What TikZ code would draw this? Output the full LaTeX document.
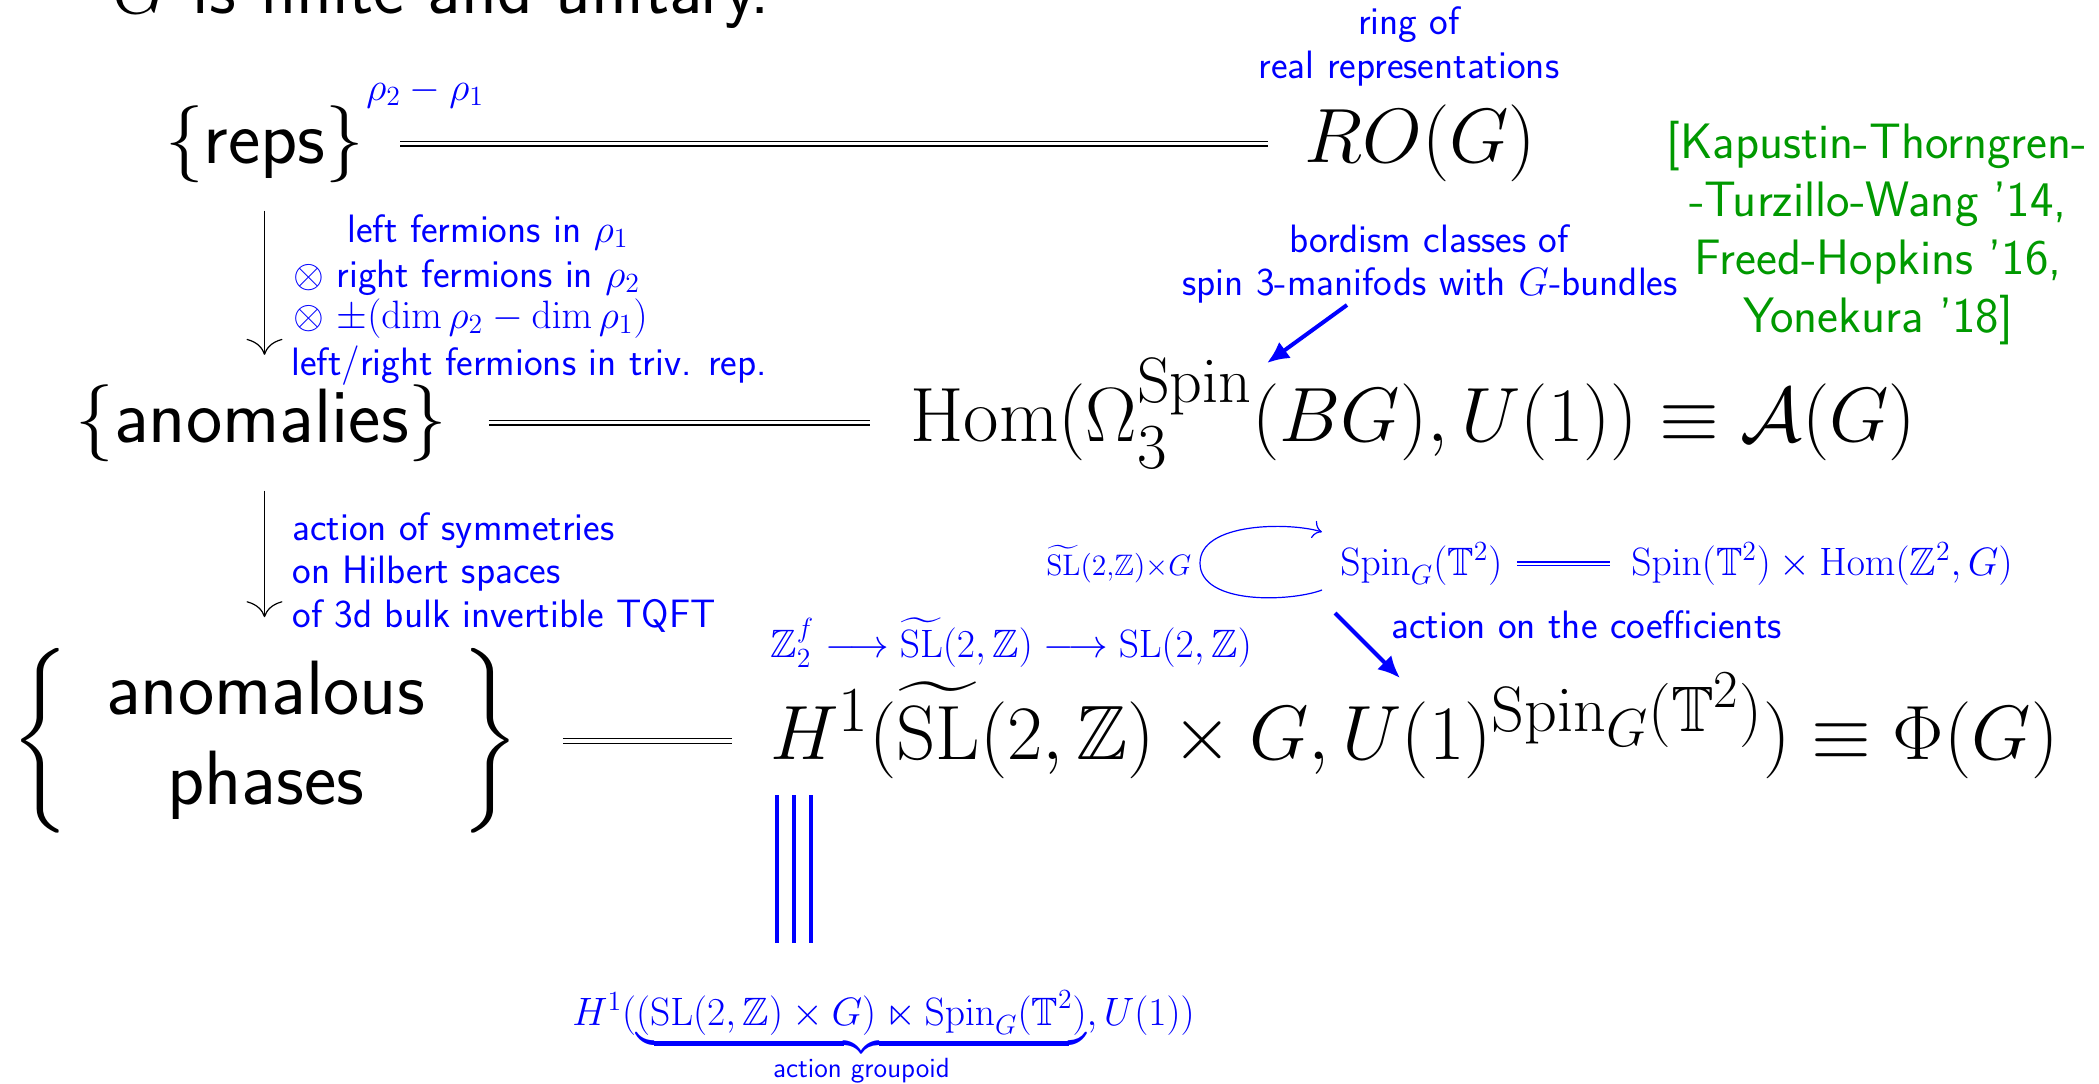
\RequirePackage{fix-cm}
\documentclass[tikz,border=0pt]{standalone}
\usepackage{amsmath,amssymb}
\usetikzlibrary{arrows.meta}
\renewcommand{\familydefault}{\sfdefault}
\DeclareMathSizes{38.5}{38.5}{32.1}{26.7}
\definecolor{citegreen}{rgb}{0,0.6,0}
\begin{document}
\begin{tikzpicture}[x=0.5pt,y=-0.5pt,
  big/.style={inner sep=0pt, font=\fontsize{38.5}{45}\selectfont},
  ttl/.style={inner sep=0pt, font=\fontsize{37}{45}\selectfont},
  lbl/.style={inner sep=0pt, text=blue, font=\fontsize{19.8}{23}\selectfont},
  tinyf/.style={inner sep=0pt, text=blue, font=\fontsize{14.8}{17}\selectfont},
  citef/.style={inner sep=0pt, text=citegreen, font=\fontsize{24.9}{29}\selectfont},
  dbl/.style={double, double distance=1.6pt, line width=0.7pt},
  dblsm/.style={blue, double, double distance=1.2pt, line width=0.6pt},
  downarr/.style={line width=0.6pt, -{Computer Modern Rightarrow[width=18pt,length=8pt]}},
  thk/.style={blue, line width=2pt, -{Latex[length=11pt,width=10pt]}},
  trip/.style={blue, line width=1.6pt},
  looparr/.style={blue, line width=0.6pt, -{Computer Modern Rightarrow[width=9pt,length=4.5pt]}}
]
\useasboundingbox (0,0) rectangle (2099,1083);

\node[ttl, anchor=base west] (title) at (112,13) {$G$ is finite and unitary.};

\node[big, anchor=base] (reps) at (264.5,163) {$\{$reps$\}$};
\node[big, anchor=base west] (RO) at (1304,162) {$RO(G)$};
\node[big, anchor=base] (anom) at (261.5,442) {$\{$anomalies$\}$};
\node[big, anchor=base west] (Hom) at (910,441) {$\mathrm{Hom}(\Omega_3^{\mathrm{Spin}}(BG),U(1))\equiv\mathcal{A}(G)$};
\node[big] (phases) at (265.5,741) {\setlength\tabcolsep{18.5pt}$\left\{\begin{tabular}{c}anomalous\\phases\end{tabular}\right\}$};
\node[big, anchor=base west] (H1) at (770,759) {$H^1(\widetilde{\mathrm{SL}}(2,\mathbb{Z})\times G,U(1)^{\mathrm{Spin}_G(\mathbb{T}^2)})\equiv\Phi(G)$};

\node[lbl, anchor=base west] (r21) at (366,100) {$\rho_2-\rho_1$};
\node[lbl, anchor=base] (ring1) at (1409,34) {ring of};
\node[lbl, anchor=base] (ring2) at (1409,78) {real representations};

\node[citef, anchor=base] (c1) at (1877,158) {[Kapustin-Thorngren-};
\node[citef, anchor=base] (c2) at (1878,216) {-Turzillo-Wang ’14,};
\node[citef, anchor=base] (c3) at (1878,274) {Freed-Hopkins ’16,};
\node[citef, anchor=base] (c4) at (1878,332) {Yonekura ’18]};

\node[lbl, anchor=base west] (f1) at (347,242) {left fermions in $\rho_1$};
\node[lbl, anchor=base west] (f2) at (293,287) {$\otimes$ right fermions in $\rho_2$};
\node[lbl, anchor=base west] (f3) at (293,328) {$\otimes$ $\pm(\dim\rho_2-\dim\rho_1)$};
\node[lbl, anchor=base west] (f4) at (291,375) {left/right fermions in triv. rep.};

\node[lbl, anchor=base] (bo1) at (1429,252) {bordism classes of};
\node[lbl, anchor=base] (bo2) at (1430,295) {spin 3-manifods with $G$-bundles};

\node[lbl, anchor=base west] (s1) at (292,540) {action of symmetries};
\node[lbl, anchor=base west] (s2) at (292,583) {on Hilbert spaces};
\node[lbl, anchor=base west] (s3) at (292,627) {of 3d bulk invertible TQFT};

\node[tinyf, anchor=base west] (act) at (1046,575) {$\widetilde{\mathrm{SL}}(2{,}\mathbb{Z}){\times}G$};
\node[lbl, anchor=base west] (spinG) at (1340,575) {$\mathrm{Spin}_G(\mathbb{T}^2)$};
\node[lbl, anchor=base west] (spinH) at (1631,575) {$\mathrm{Spin}(\mathbb{T}^2)\times\mathrm{Hom}(\mathbb{Z}^2,G)$};
\node[lbl, anchor=base west] (coef) at (1391,638) {action on the coefficients};
\node[lbl, anchor=base west] (ext) at (770,657) {$\mathbb{Z}_2^f\longrightarrow\widetilde{\mathrm{SL}}(2,\mathbb{Z})\longrightarrow\mathrm{SL}(2,\mathbb{Z})$};
\node[lbl, anchor=base west] (bot) at (572,1025) {$H^1(\underbrace{(\mathrm{SL}(2,\mathbb{Z})\times G)\ltimes\mathrm{Spin}_G(\mathbb{T}^2)}_{\text{action groupoid}},U(1))$};

% connectors
\draw[dbl, shorten <=18pt, shorten >=18pt] (reps.east) -- (reps.east -| RO.west);
\draw[dbl, shorten <=20.5pt, shorten >=20pt] (anom.east) -- (anom.east -| Hom.west);
\draw[dbl, shorten <=21.5pt, shorten >=19pt] (phases.east) -- (phases.east -| H1.west);

\draw[downarr, shorten <=14pt, shorten >=14.5pt] (reps.south) -- (reps.south |- anom.north);
\draw[downarr, shorten <=14.5pt, shorten >=15.5pt] (anom.south -| reps.south) -- (phases.north -| reps.south);

\coordinate (bA) at (1347,305);
\coordinate (bB) at (1267,363);
\draw[thk] (bA) -- (bB);
\coordinate (cA) at (1335,613);
\coordinate (cB) at (1400,678);
\draw[thk] (cA) -- (cB);

\coordinate (lpA) at (1322,590);
\coordinate (lpB) at (1322,532);
\draw[looparr] (lpA) .. controls (1290,602) and (1200,605) .. (1200,563) .. controls (1200,522) and (1290,522) .. (lpB);

\draw[dblsm, shorten <=7pt, shorten >=10.5pt] (spinG.east) -- (spinG.east -| spinH.west);

\coordinate (tA) at (794,795);
\coordinate (tB) at (794,943);
\foreach \dx in {-17,0,17} \draw[trip] ([shift={(\dx,0)}]tA) -- ([shift={(\dx,0)}]tB);
\end{tikzpicture}
\end{document}
